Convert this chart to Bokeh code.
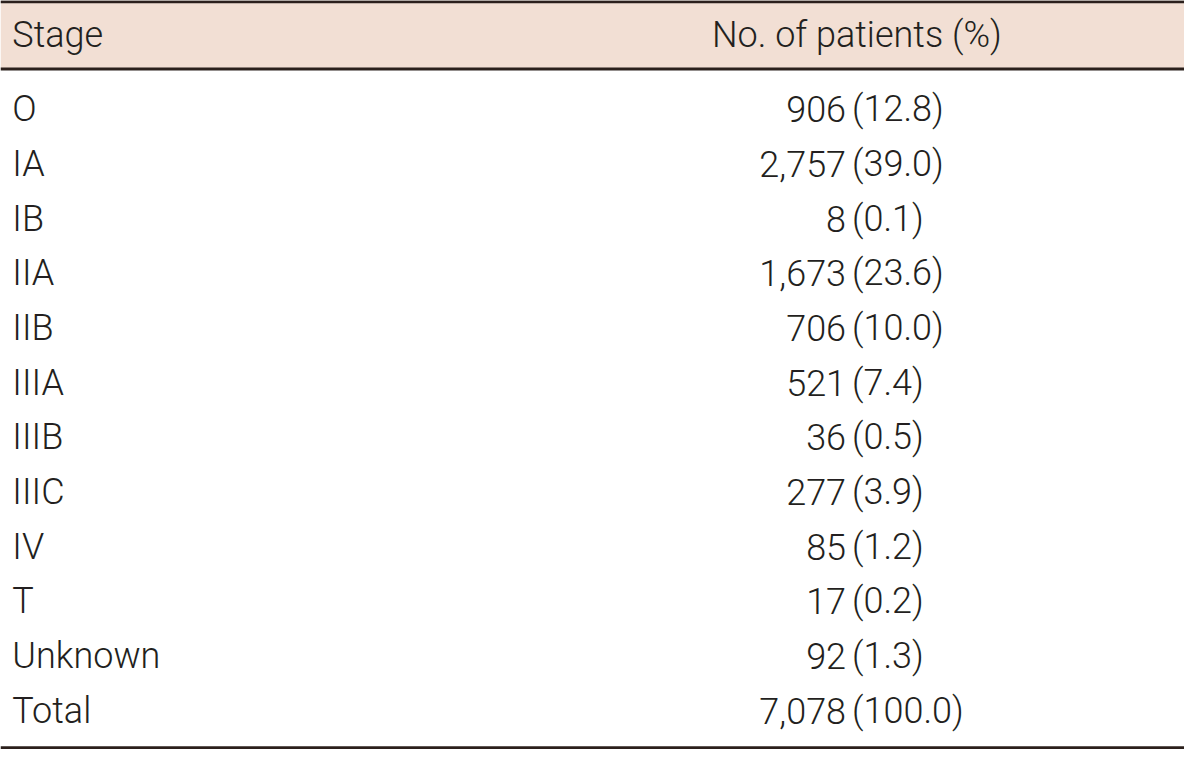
from bokeh.plotting import figure
from bokeh.models import ColumnDataSource, Range1d
from bokeh.core.properties import value
from bokeh.embed import file_html
from bokeh.resources import INLINE

# ---- data ----
header_stage = "Stage"
header_count = "No. of patients (%)"
stages = ["O", "IA", "IB", "IIA", "IIB", "IIIA", "IIIB", "IIIC", "IV", "T", "Unknown", "Total"]
patients = [906, 2757, 8, 1673, 706, 521, 36, 277, 85, 17, 92, 7078]
percent = [12.8, 39.0, 0.1, 23.6, 10.0, 7.4, 0.5, 3.9, 1.2, 0.2, 1.3, 100.0]

FONT = "Roboto Light"
FS = "36px"
TXT = "#231f20"
LINE = "#2b201c"
HEAD_BG = "#f2dfd4"

first_row = 111.0
row_step = 55.85
ys = [first_row + i * row_step for i in range(len(stages))]

src = ColumnDataSource(dict(
    y=ys,
    x_stage=[12] * len(stages),
    x_num=[857] * len(stages),
    x_pct=[863] * len(stages),
    stage=stages,
    num=[f"{n:,}" for n in patients],
    pct=[f"({v:.1f})" for v in percent],
))

p = figure(width=1184, height=749, output_backend="svg", toolbar_location=None,
           x_range=Range1d(0, 1200), y_range=Range1d(765, 0),
           min_border=0, min_border_left=0, min_border_right=0,
           min_border_top=0, min_border_bottom=0)
p.axis.visible = False
p.grid.visible = False
p.outline_line_color = None
p.background_fill_color = "white"
p.border_fill_color = "white"

# header band
p.quad(left=[0], right=[1200], top=[0], bottom=[70], fill_color=HEAD_BG, line_color=None)
# rules
p.segment(x0=[0, 0, 0], x1=[1200, 1200, 1200], y0=[1.2, 70, 763.3], y1=[1.2, 70, 763.3],
          line_color=LINE, line_width=3)

# header texts
p.text(x=[12], y=[35], text=[header_stage], text_font=value(FONT), text_font_size=FS,
       text_color=TXT, text_baseline="middle", text_align="left")
p.text(x=[868], y=[35], text=[header_count], text_font=value(FONT), text_font_size=FS,
       text_color=TXT, text_baseline="middle", text_align="center")

# body
p.text(x="x_stage", y="y", text="stage", source=src, text_font=value(FONT), text_font_size=FS,
       text_color=TXT, text_baseline="middle", text_align="left")
p.text(x="x_num", y="y", text="num", source=src, text_font=value(FONT), text_font_size=FS,
       text_color=TXT, text_baseline="middle", text_align="right")
p.text(x="x_pct", y="y", text="pct", source=src, text_font=value(FONT), text_font_size=FS,
       text_color=TXT, text_baseline="middle", text_align="left")

open("out.html", "w").write(file_html(p, INLINE))
